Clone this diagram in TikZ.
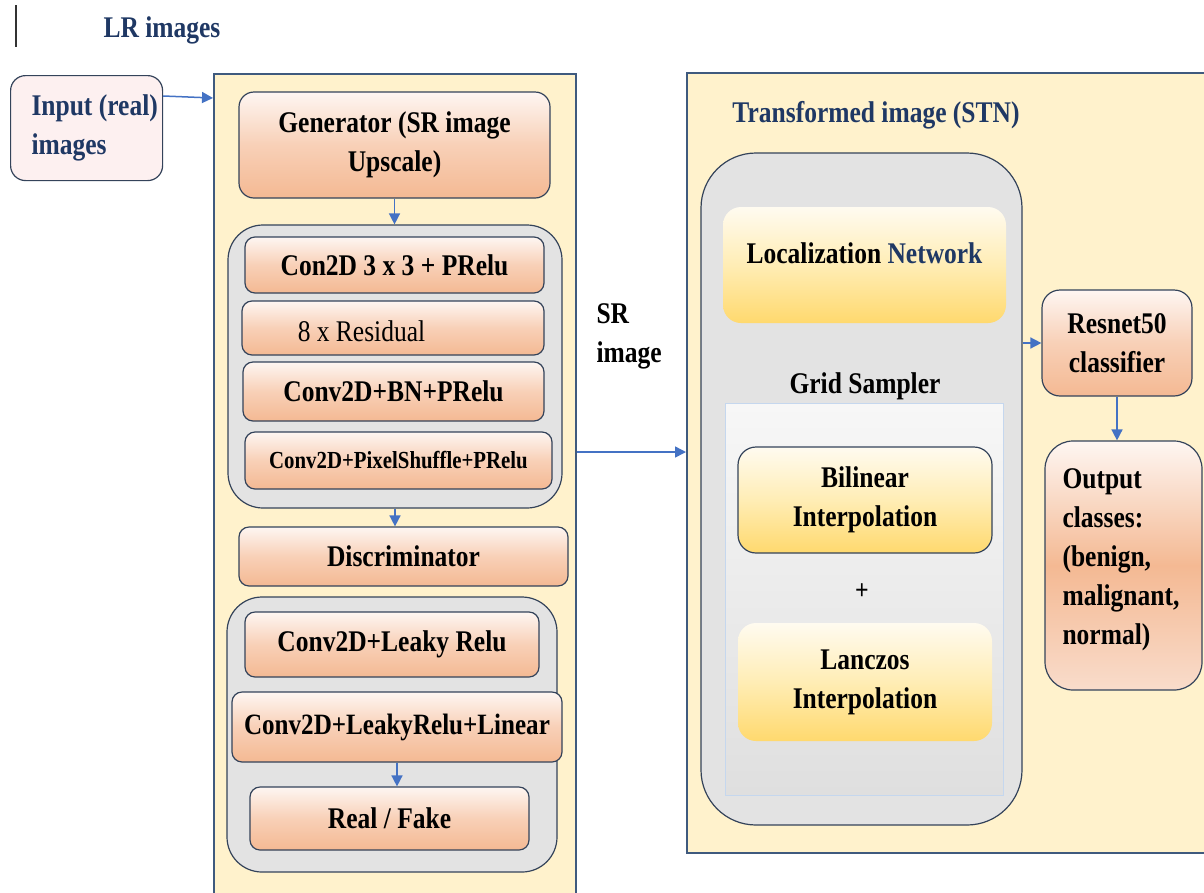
\documentclass[tikz,border=0pt]{standalone}
\usepackage{fontspec}
\setmainfont{Liberation Serif}[FakeStretch=0.85]
\usetikzlibrary{arrows.meta}

\definecolor{panelfill}{HTML}{FFF2CC}
\definecolor{panelline}{HTML}{3F5A7E}
\definecolor{navy}{HTML}{1F3864}
\definecolor{arrowblue}{HTML}{4472C4}
\definecolor{greyfill}{HTML}{E3E3E3}
\definecolor{boxline}{HTML}{34435A}
\definecolor{oTop}{HTML}{FEF6F2}
\definecolor{oMid}{HTML}{F8D0B7}
\definecolor{oBot}{HTML}{F4B993}
\definecolor{oSoft}{HTML}{F9DCCB}
\definecolor{yTop}{HTML}{FFFBF0}
\definecolor{yMid}{HTML}{FFEDB5}
\definecolor{yBot}{HTML}{FFD96E}
\definecolor{pinkfill}{HTML}{FDF0F0}
\definecolor{gridTop}{HTML}{F7F7F7}
\definecolor{gridBot}{HTML}{DFDFDF}
\definecolor{gridline}{HTML}{C5D7EE}

\tikzset{
  txt/.style={font=\fontsize{30}{39}\selectfont\bfseries, align=center},
  panel/.style={draw=panelline, line width=1.5pt, fill=panelfill, anchor=north west, inner sep=0pt},
  greybox/.style={draw=boxline, line width=1.2pt, fill=greyfill, inner sep=0pt},
  obox/.style={draw=boxline, line width=1.2pt, rounded corners=10pt, inner sep=0pt,
    top color=oTop, bottom color=oBot, middle color=oMid, txt},
  ybox/.style={rounded corners=18pt, inner sep=0pt,
    top color=yTop, bottom color=yBot, middle color=yMid, txt},
  arr/.style={draw=arrowblue, line width=1.5pt, -{Triangle[length=11pt,width=11pt]}},
}

\begin{document}
\begin{tikzpicture}[x=1pt,y=-1pt]
\clip (0,0) rectangle (1204,892);
\fill[white] (0,0) rectangle (1204,892);

% header mark and title
\draw[line width=1.5pt, black!80] (16,5) -- (16,47);
\node[txt, text=navy] (lr) at (162,30) {LR images};

% input box
\node[draw=boxline, line width=1.2pt, fill=pinkfill, rounded corners=15pt,
      minimum width=152pt, minimum height=105pt, anchor=north west] (in) at (10,75) {};
\node[txt, text=navy, align=left, anchor=west] (intext) at (28,128) {Input (real)\\images};

% GAN panel
\node[panel, minimum width=362pt, minimum height=830pt] (gan) at (213,73) {};
\node[obox, rounded corners=15pt, minimum width=311pt, minimum height=106pt] (gen) at (394.5,145) {Generator (SR image\\Upscale)};

\node[greybox, rounded corners=35pt, minimum width=334pt, minimum height=283pt] (c1) at (395,366.5) {};
\node[obox, minimum width=299pt, minimum height=56pt] (c2d) at (394.5,265) {Con2D 3 x 3 + PRelu};
\node[obox, minimum width=302pt, minimum height=54pt] (res8) at (393,328) {};
\node[txt, font=\fontsize{30}{39}\selectfont\mdseries] (res8text) at (361.5,331) {8 x Residual};
\node[obox, minimum width=301pt, minimum height=59pt] (bn) at (393.5,391.5) {Conv2D+BN+PRelu};
\node[obox, minimum width=307pt, minimum height=57pt, font=\fontsize{24.5}{30}\selectfont\bfseries] (ps) at (398.5,460.5) {Conv2D+PixelShuffle+PRelu};

\node[obox, minimum width=329pt, minimum height=59pt] (disc) at (403.5,556.5) {Discriminator};

\node[greybox, rounded corners=35pt, minimum width=330pt, minimum height=275pt] (c2) at (392,734.5) {};
\node[obox, minimum width=294pt, minimum height=65pt] (leaky) at (392,644.5) {Conv2D+Leaky Relu};
\node[obox, minimum width=330pt, minimum height=70pt, font=\fontsize{29.5}{36}\selectfont\bfseries] (lin) at (397,727) {Conv2D+LeakyRelu+Linear};
\node[obox, minimum width=279pt, minimum height=63pt] (rf) at (389.5,818.5) {Real / Fake};

% SR image label
\node[txt, align=left, anchor=west] (srtext) at (593,336) {SR\\image};

% STN panel
\node[panel, minimum width=530pt, minimum height=780pt] (stn) at (686,72) {};
\node[txt, text=navy] (stntitle) at (876,115) {Transformed image (STN)};
\node[greybox, rounded corners=55pt, minimum width=321pt, minimum height=672pt] (stng) at (861.5,489) {};
\node[ybox, minimum width=283pt, minimum height=116pt] (loc) at (864.5,265) {};
\node[txt] (loctext) at (864.5,253) {Localization \textcolor{navy}{Network}};
\node[txt] (gstext) at (865,386) {Grid Sampler};
\node[draw=gridline, line width=0.8pt, top color=gridTop, bottom color=gridBot,
      minimum width=278pt, minimum height=392pt, inner sep=0pt] (grid) at (864,599) {};
\node[ybox, draw=boxline, line width=1.2pt, minimum width=254pt, minimum height=106pt] (bil) at (865,500) {Bilinear\\Interpolation};
\node[font=\fontsize{28}{30}\selectfont\bfseries] (plus) at (862,592) {+};
\node[ybox, minimum width=254pt, minimum height=118pt] (lan) at (865,682) {Lanczos\\Interpolation};

% classifier and output
\node[obox, rounded corners=18pt, minimum width=150pt, minimum height=106pt] (res) at (1117,343) {Resnet50\\classifier};
\node[obox, rounded corners=28pt, top color=oTop, bottom color=oSoft, middle color=oBot,
      minimum width=157pt, minimum height=249pt] (out) at (1123.5,565.5) {};
\node[txt, align=left, anchor=west] (outtext) at (1059,560) {Output\\classes:\\(benign,\\malignant,\\normal)};

% connectors
\draw[arr] (in.east |- 0,96) -- (gan.west |- 0,98);
\draw[arr] (gen.south) -- (gen.south |- c1.north);
\draw[arr] (c1.south) -- (c1.south |- disc.north);
\draw[arr] (lin.south) -- (lin.south |- rf.north);
\draw[arr] (gan.east |- 0,452) -- (stn.west |- 0,452);
\draw[arr] (stng.east |- res.west) -- (res.west);
\draw[arr] (res.south) -- (res.south |- out.north);
\end{tikzpicture}
\end{document}
